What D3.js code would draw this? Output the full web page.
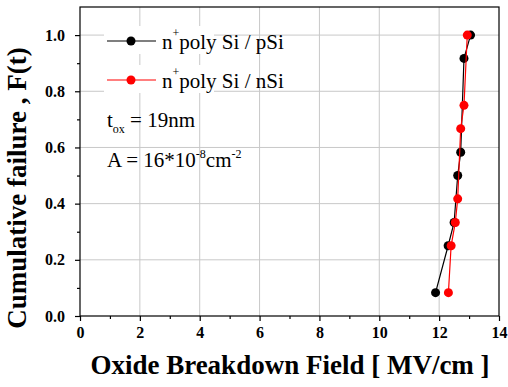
<!DOCTYPE html>
<html><head><meta charset="utf-8">
<script src="https://cdn.jsdelivr.net/npm/d3@7"></script>
</head><body style="margin:0">
<svg id="c" width="508" height="387"></svg>
<script>
const pSiField = [11.88, 12.30, 12.50, 12.62, 12.72, 12.83, 13.05];
const pSiF     = [0.083, 0.25, 0.333, 0.5, 0.583, 0.917, 1.0];
const nSiField = [12.31, 12.40, 12.54, 12.62, 12.72, 12.83, 12.94];
const nSiF     = [0.083, 0.25, 0.333, 0.417, 0.667, 0.75, 1.0];
const xTicks = [0, 2, 4, 6, 8, 10, 12, 14];
const yTicks = [0.0, 0.2, 0.4, 0.6, 0.8, 1.0];

const svg = d3.select('#c');
const L = 80, R = 499, T = 7, B = 316;
const x = d3.scaleLinear().domain([0, 14]).range([L, R]);
const y = d3.scaleLinear().domain([0, 1.1]).range([B, T]);
const FF = 'Liberation Serif';

// grid
svg.append('g').selectAll('line').data(xTicks.filter(d => d > 0 && d < 14)).join('line')
  .attr('x1', d => x(d)).attr('x2', d => x(d)).attr('y1', T).attr('y2', B)
  .attr('stroke', '#c8c8c8').attr('stroke-width', 1);
svg.append('g').selectAll('line').data(yTicks.filter(d => d > 0)).join('line')
  .attr('y1', d => y(d)).attr('y2', d => y(d)).attr('x1', L).attr('x2', R)
  .attr('stroke', '#c8c8c8').attr('stroke-width', 1);

// frame
svg.append('rect').attr('x', L).attr('y', T).attr('width', R - L).attr('height', B - T)
  .attr('fill', 'none').attr('stroke', '#000').attr('stroke-width', 1.2);

// axes
const xAxis = svg.append('g').attr('transform', `translate(0,${B})`)
  .call(d3.axisBottom(x).tickValues(xTicks).tickFormat(d3.format('d')).tickSize(5).tickPadding(6));
const xMinor = svg.append('g').attr('transform', `translate(0,${B})`)
  .call(d3.axisBottom(x).tickValues(d3.range(1, 14, 2)).tickFormat('').tickSize(3));
const yAxis = svg.append('g').attr('transform', `translate(${L},0)`)
  .call(d3.axisLeft(y).tickValues(yTicks).tickFormat(d3.format('.1f')).tickSize(5).tickPadding(10));
const yMinor = svg.append('g').attr('transform', `translate(${L},0)`)
  .call(d3.axisLeft(y).tickValues([0.1, 0.3, 0.5, 0.7, 0.9]).tickFormat('').tickSize(3));
[xAxis, xMinor, yAxis, yMinor].forEach(g => {
  g.select('.domain').remove();
  g.selectAll('line').attr('stroke', '#000').attr('stroke-width', 1.2);
  g.selectAll('text').style('font-family', FF).style('font-weight', 'bold')
    .style('font-size', '16px').attr('fill', '#000');
});

// series
function series(xs, ys, color) {
  const pts = xs.map((v, i) => [v, ys[i]]);
  svg.append('path').datum(pts)
    .attr('d', d3.line().x(d => x(d[0])).y(d => y(d[1])))
    .attr('fill', 'none').attr('stroke', color).attr('stroke-width', 1.2);
  svg.append('g').selectAll('circle').data(pts).join('circle')
    .attr('cx', d => x(d[0])).attr('cy', d => y(d[1])).attr('r', 4.5).attr('fill', color);
}
series(pSiField, pSiF, '#000');
series(nSiField, nSiF, '#ff0000');

function txt(xp, yp, size) {
  return svg.append('text').attr('x', xp).attr('y', yp)
    .style('font-family', FF).style('font-size', size + 'px').attr('fill', '#000');
}

// legend
const leg = [{c: '#000', t: 'pSi', y: 41}, {c: '#ff0000', t: 'nSi', y: 80}];
leg.forEach(l => {
  svg.append('rect').attr('x', 104).attr('y', l.y - 15).attr('width', 110).attr('height', 28).attr('fill', '#fff');
  svg.append('line').attr('x1', 107).attr('x2', 156).attr('y1', l.y).attr('y2', l.y)
    .attr('stroke', l.c).attr('stroke-width', 1.2);
  svg.append('circle').attr('cx', 131).attr('cy', l.y).attr('r', 4.5).attr('fill', l.c);
  const t = txt(162, l.y + 8, 21);
  t.append('tspan').text('n');
  t.append('tspan').style('font-size', '12px').attr('dy', -12).text('+');
  t.append('tspan').attr('dy', 12).text('poly Si / ' + l.t);
});
// annotations
const t1 = txt(107, 127, 21);
t1.append('tspan').text('t');
t1.append('tspan').style('font-size', '12px').attr('dy', 6).text('ox');
t1.append('tspan').attr('dy', -6).text(' = 19nm');
const t2 = txt(107, 167, 21);
t2.append('tspan').text('A = 16*10');
t2.append('tspan').style('font-size', '12px').attr('dy', -9).text('-8');
t2.append('tspan').attr('dy', 9).text('cm');
t2.append('tspan').style('font-size', '12px').attr('dy', -9).text('-2');

// axis titles
svg.append('text').attr('x', 290).attr('y', 374).attr('text-anchor', 'middle')
  .style('font-family', FF).style('font-weight', 'bold').style('font-size', '27px')
  .text('Oxide Breakdown Field [ MV/cm ]');
svg.append('text').attr('transform', 'translate(26,188) rotate(-90)').attr('text-anchor', 'middle')
  .style('font-family', FF).style('font-weight', 'bold').style('font-size', '27px')
  .text('Cumulative failure , F(t)');
</script>
</body></html>
